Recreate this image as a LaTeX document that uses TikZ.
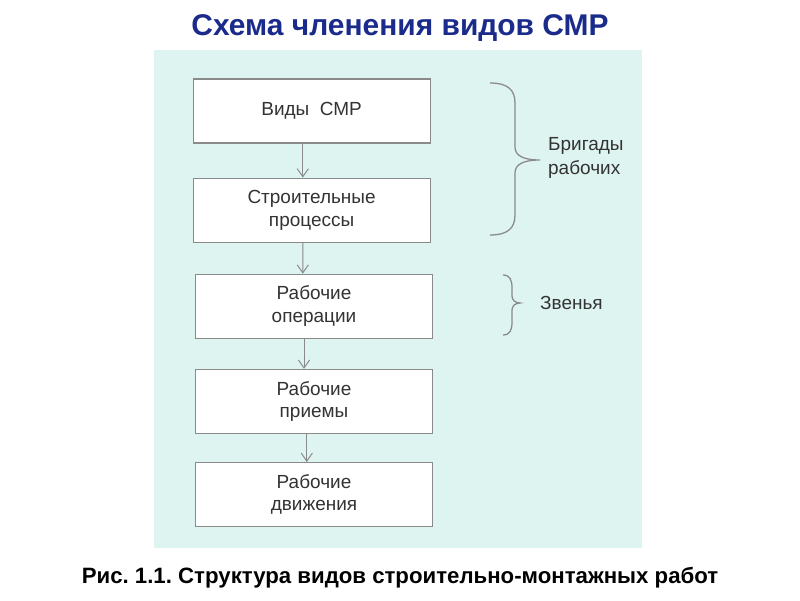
\documentclass[tikz,border=0pt]{standalone}
\usepackage{fontspec}
\setmainfont{Liberation Sans}
\frenchspacing
\definecolor{theme}{HTML}{1A2B8C}
\definecolor{panel}{HTML}{DDF4F0}
\definecolor{frame}{HTML}{8A8A8A}
\definecolor{ink}{HTML}{333333}
\usetikzlibrary{calc}
\usetikzlibrary{positioning}
\usetikzlibrary{arrows.meta}
\tikzset{
  stagebox/.style={rectangle, draw=frame, line width=0.8pt, fill=white, align=center, text=ink, minimum width=5.925cm, minimum height=1.6cm, font=\fontsize{13.5}{16}\selectfont},
  sidelabel/.style={align=left, anchor=west, text=ink, font=\fontsize{13.5}{16.5}\selectfont},
  flow/.style={-{Straight Barb[length=2mm, width=2.8mm]}, draw=frame, line width=0.7pt},
  bracket/.style={draw=frame, line width=0.9pt}
}

\begin{document}
\begin{tikzpicture}
      \useasboundingbox[fill=white] (0,0) rectangle (20,15);
      \fill[panel] (3.85,1.3) rectangle (16.05,13.75);
      \node[align=center, text=theme, font=\fontsize{21.3}{25}\selectfont\bfseries] (x0) at (10,14.3) {Схема членения видов СМР};
      \node[stagebox] (x1) at (7.79,12.225) {Виды~ СМР};
      \node[stagebox, below=0.85cm of x1] (x2) {Строительные\\процессы};
      \node[stagebox, below=0.775cm of x2, xshift=0.06cm] (x3) {Рабочие\\операции};
      \node[stagebox, below=0.75cm of x3] (x4) {Рабочие\\приемы};
      \node[stagebox, below=0.7cm of x4] (x5) {Рабочие\\движения};
      \node[sidelabel] (x6) at (13.58,11.05) {Бригады\\рабочих};
      \node[sidelabel] (x7) at (13.38,7.425) {Звенья};
      \node[align=center, font=\fontsize{15.8}{18}\selectfont\bfseries] (x8) at (10,0.55) {Рис. 1.1. Структура видов строительно-монтажных работ};
      \draw[flow] ([xshift=-0.22cm]x1.south) -- ([xshift=-0.22cm]x2.north);
      \draw[flow] ([xshift=-0.22cm]x2.south) -- ([xshift=-0.28cm]x3.north);
      \draw[flow] ([xshift=-0.25cm]x3.south) -- ([xshift=-0.25cm]x4.north);
      \draw[flow] ([xshift=-0.18cm]x4.south) -- ([xshift=-0.18cm]x5.north);
      % braces next to the labels
      \draw[bracket] (12.25,12.925) .. controls (12.7,12.925) and (12.875,12.75) .. (12.875,12.425) -- (12.875,11.325) .. controls (12.875,11.1) and (13.1,11.0) .. (13.5,11.0) .. controls (13.1,11.0) and (12.875,10.9) .. (12.875,10.675) -- (12.875,9.625) .. controls (12.875,9.3) and (12.7,9.125) .. (12.25,9.125);
      \draw[bracket] (12.575,8.125) .. controls (12.75,8.125) and (12.8,8.0) .. (12.8,7.8) -- (12.8,7.6) .. controls (12.8,7.5) and (12.88,7.425) .. (13.0,7.425) .. controls (12.88,7.425) and (12.8,7.35) .. (12.8,7.25) -- (12.8,6.95) .. controls (12.8,6.75) and (12.75,6.625) .. (12.575,6.625);
    \end{tikzpicture}
\end{document}
